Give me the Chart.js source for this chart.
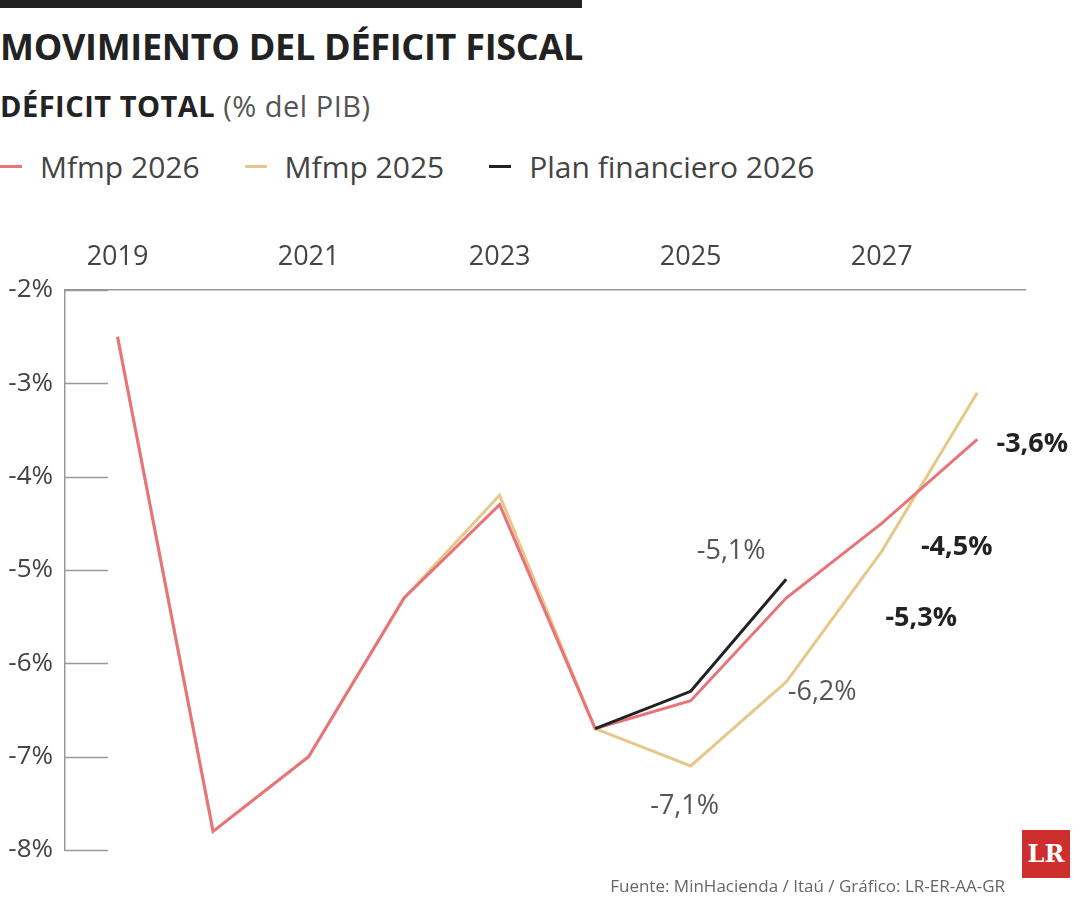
<!DOCTYPE html>
<html>
<head>
<meta charset="utf-8">
<script src="https://cdn.jsdelivr.net/npm/chart.js@4.4.1/dist/chart.umd.min.js"></script>
<style>
  body { margin: 0; width: 1080px; height: 900px; background: #fff; font-family: 'Open Sans', sans-serif; position: relative; overflow: hidden; color: #222; }
  #bar { position: absolute; left: 0; top: 0; width: 582px; height: 8px; background: #222; }
  #title { position: absolute; left: 0; top: 22px; font-size: 36px; font-weight: 700; letter-spacing: -0.3px; }
  #sub { position: absolute; left: 0; top: 86px; font-size: 29px; letter-spacing: 0.5px; }
  #sub b { font-weight: 700; }
  #sub span { color: #555; }
  #legend { position: absolute; left: 0; top: 146px; font-size: 30px; color: #444; display: flex; }
  #legend div { margin-right: 45px; display: flex; align-items: center; }
  #legend i { display: inline-block; width: 22px; height: 3px; margin-right: 18px; }
  #src { position: absolute; right: 75px; top: 874px; font-size: 17px; color: #666; }
  #logo { position: absolute; left: 1022px; top: 830px; width: 48px; height: 48px; background: #cf2e2e; color: #fff; font: 700 24px 'DejaVu Serif', serif; text-align: center; line-height: 48px; }
  #wrap { position: absolute; left: 0; top: 0; width: 1080px; height: 900px; }
</style>
</head>
<body>
<div id="bar"></div>
<div id="title">MOVIMIENTO DEL DÉFICIT FISCAL</div>
<div id="sub"><b>DÉFICIT TOTAL</b> <span>(% del PIB)</span></div>
<div id="legend">
  <div><i style="background:#e8747a"></i>Mfmp 2026</div>
  <div><i style="background:#e6c88c"></i>Mfmp 2025</div>
  <div><i style="background:#222"></i>Plan financiero 2026</div>
</div>
<div id="wrap"><canvas id="chart" width="1080" height="900"></canvas></div>
<div id="src">Fuente: MinHacienda / Itaú / Gráfico: LR-ER-AA-GR</div>
<div id="logo">LR</div>
<script>
const years = [2019, 2020, 2021, 2022, 2023, 2024, 2025, 2026, 2027, 2028];
const mfmp2026 = [-2.5, -7.8, -7.0, -5.3, -4.3, -6.7, -6.4, -5.3, -4.5, -3.6];
const mfmp2025 = [-2.5, -7.8, -7.0, -5.3, -4.2, -6.7, -7.1, -6.2, -4.8, -3.1];
const planFin = [null, null, null, null, null, -6.7, -6.3, -5.1, null, null];
const yearTicks = [2019, 2021, 2023, 2025, 2027];
const yTicks = [-2, -3, -4, -5, -6, -7, -8];
// [dataset, point index, text, dx, dy, bold]  (0 = plan, 1 = mfmp 2026, 2 = mfmp 2025)
const notes = [
  [0, 7, '-5,1%', -55, -28, false],
  [2, 7, '-6,2%', 36, 10, false],
  [2, 6, '-7,1%', -6, 40, false],
  [1, 9, '-3,6%', 55, 5, true],
  [1, 8, '-4,5%', 75, 24, true],
  [1, 7, '-5,3%', 135, 20, true]
];

const fmt = v => String(v).replace('.', ',');

const extras = {
  id: 'extras',
  afterDraw(chart) {
    const c = chart.ctx, y = chart.scales.y, a = chart.chartArea;
    c.save();
    c.strokeStyle = '#999';
    c.lineWidth = 1.5;
    yTicks.forEach(t => {
      const py = Math.round(y.getPixelForValue(t)) + 0.5;
      c.beginPath(); c.moveTo(a.left, py); c.lineTo(a.left + 43, py); c.stroke();
    });
    c.textAlign = 'center';
    c.textBaseline = 'middle';
    notes.forEach(([ds, i, txt, dx, dy, bold]) => {
      const p = chart.getDatasetMeta(ds).data[i];
      c.font = (bold ? '700 ' : '400 ') + '27px "Open Sans"';
      c.fillStyle = bold ? '#222' : '#555';
      c.fillText(txt, p.x + dx, p.y + dy);
    });
    c.restore();
  }
};

const line = (data, color) => ({
  data: years.map((x, i) => ({ x, y: data[i] })),
  borderColor: color, borderWidth: 3, pointRadius: 0, tension: 0, spanGaps: false
});

new Chart(document.getElementById('chart'), {
  type: 'line',
  data: {
    datasets: [
      line(planFin, '#222'),
      line(mfmp2026, '#e8747a'),
      line(mfmp2025, '#e6c88c')
    ]
  },
  options: {
    responsive: false,
    animation: false,
    layout: { padding: { top: 240, right: 55, bottom: 50, left: 0 } },
    plugins: { legend: { display: false }, tooltip: { enabled: false } },
    scales: {
      x: {
        type: 'linear', position: 'top', min: 2018.45, max: 2028.5,
        afterBuildTicks: s => { s.ticks = yearTicks.map(v => ({ value: v })); },
        afterFit: s => { s.height = 50; },
        grid: { display: false },
        border: { color: '#999', width: 1.5 },
        ticks: { color: '#444', font: { size: 27, family: 'Open Sans' }, padding: 8, callback: v => String(v) }
      },
      y: {
        min: -8, max: -2,
        afterBuildTicks: s => { s.ticks = yTicks.map(v => ({ value: v })); },
        afterFit: s => { s.width = 65; },
        grid: { display: false },
        border: { color: '#999', width: 1.5 },
        ticks: { color: '#444', font: { size: 26, family: 'Open Sans' }, padding: 4, callback: v => fmt(v) + '%' }
      }
    }
  },
  plugins: [extras]
});
</script>
</body>
</html>
